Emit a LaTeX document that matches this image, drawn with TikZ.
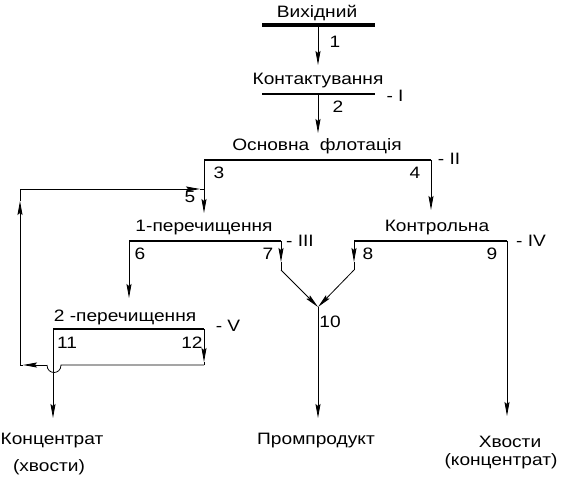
\documentclass[tikz,border=0pt]{standalone}
\usepackage{fontspec}
\setmainfont[FakeStretch=1.16]{Liberation Sans}
\usetikzlibrary{arrows.meta}
\begin{document}
\begin{tikzpicture}[x=1pt,y=-1pt,
  flow/.style={line width=0.8pt},
  arr/.style={flow,-{Stealth[length=14pt,width=5pt,inset=2pt]}},
  proc/.style={line width=1.6pt},
  lbl/.style={inner sep=0pt,font=\fontsize{16.5}{18}\selectfont},
  num/.style={inner sep=0pt,font=\fontsize{16.5}{18}\selectfont}]
\useasboundingbox (0,0) rectangle (562,478);
% coordinates
\coordinate (b1) at (262,25); \coordinate (b2) at (375,25);
\coordinate (s1) at (318,25); \coordinate (e1) at (318,65);
\coordinate (k1) at (262,94); \coordinate (k2) at (375,94);
\coordinate (s2) at (318,94); \coordinate (e2) at (318,133);
\coordinate (o1) at (204,160); \coordinate (o2) at (431,160);
\coordinate (e3) at (204,213); \coordinate (e4) at (431,210);
\coordinate (c1) at (354,241); \coordinate (c2) at (507,241);
\coordinate (p1) at (129,241); \coordinate (p2) at (281,241);
\coordinate (t7) at (281,262); \coordinate (d7) at (281,270);
\coordinate (t8) at (354,262); \coordinate (d8) at (354,270);
\coordinate (j) at (318,307);
\coordinate (e10) at (318,418);
\coordinate (e9) at (507,416);
\coordinate (e6) at (129,298);
\coordinate (q1) at (53,329); \coordinate (q2) at (204,329);
\coordinate (q3) at (204,365); \coordinate (t12) at (204,362);
\coordinate (h1) at (61,365); \coordinate (h2) at (47,365);
\coordinate (tl) at (23,365); \coordinate (fl) at (20,365);
\coordinate (tu) at (20,201); \coordinate (fu) at (20,189);
\coordinate (tr) at (200,189); \coordinate (fr) at (204,189);
\coordinate (e11) at (53,418);
% process lines
\draw[line width=4pt] (b1) -- (b2);
\draw[proc] (k1) -- (k2);
\draw[proc] (o1) -- (o2);
\draw[proc] (p1) -- (p2);
\draw[proc] (c1) -- (c2);
\draw[proc] (q1) -- (q2);
% flows
\draw[arr] (s1) -- (e1);
\draw[arr] (s2) -- (e2);
\draw[arr] (o1) -- (e3);
\draw[arr] (o2) -- (e4);
\draw[arr] (p1) -- (e6);
\draw[arr] (p2) -- (t7); \draw[flow] (t7) -- (d7); \draw[arr] (d7) -- (j);
\draw[arr] (c1) -- (t8); \draw[flow] (t8) -- (d8); \draw[arr] (d8) -- (j);
\draw[arr] (j) -- (e10);
\draw[arr] (c2) -- (e9);
\draw[arr] (q2) -- (t12); \draw[flow] (t12) -- (q3);
\draw[flow] (q3) -- (h1) .. controls (61,375) and (47,375) .. (h2);
\draw[arr] (h2) -- (tl); \draw[flow] (tl) -- (fl);
\draw[arr] (fl) -- (tu); \draw[flow] (tu) -- (fu);
\draw[arr] (fu) -- (tr); \draw[flow] (tr) -- (fr);
\draw[arr] (q1) -- (e11);
% labels
\node[lbl] (Lv) at (317,13) {Вихідний};
\node[num] (n1) at (335,42) {1};
\node[lbl] (Lk) at (318,81) {Контактування};
\node[lbl] (r1) at (395,96) {-\ I};
\node[num] (n2) at (338,107) {2};
\node[lbl] (Lo) at (317,146) {Основна\ \ флотація};
\node[lbl] (r2) at (449,159) {-\ II};
\node[num] (n3) at (219,173) {3};
\node[num] (n4) at (415,173) {4};
\node[num] (n5) at (190,197) {5};
\node[lbl] (Lp1) at (204,228) {1-перечищення};
\node[lbl] (r3) at (300,241) {-\ III};
\node[lbl] (Lc) at (437,228) {Контрольна};
\node[lbl] (r4) at (531,241) {-\ IV};
\node[num] (n6) at (140,254) {6};
\node[num] (n7) at (268,254) {7};
\node[num] (n8) at (368,254) {8};
\node[num] (n9) at (492,254) {9};
\node[num] (n10) at (330,322) {10};
\node[lbl] (Lp2) at (125,317) {2 -перечищення};
\node[lbl] (r5) at (228,326) {-\ V};
\node[num] (n11) at (67,343) {11};
\node[num] (n12) at (192,343) {12};
\node[lbl] (Lk1) at (52,441) {Концентрат};
\node[lbl] (Lk2) at (49,467) {(хвости)};
\node[lbl] (Lpp) at (316,441) {Промпродукт};
\node[lbl] (Lx1) at (510,442) {Хвости};
\node[lbl] (Lx2) at (501,461) {(концентрат)};
\end{tikzpicture}
\end{document}
